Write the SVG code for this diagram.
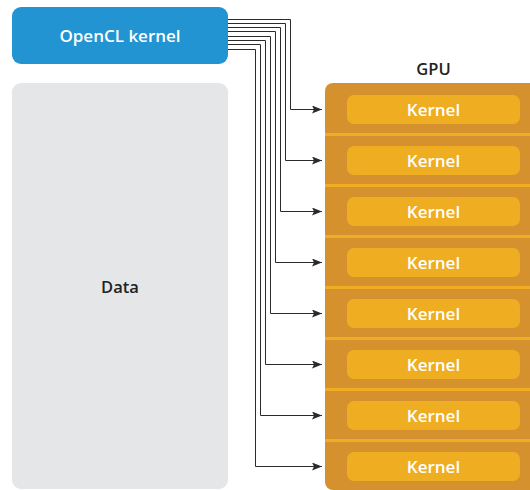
<svg xmlns="http://www.w3.org/2000/svg" width="530" height="490" viewBox="0 0 530 490">
<defs>
<style>
.lbl{font-family:"Open Sans","Noto Sans",sans-serif;font-weight:600;text-anchor:middle}
.k{fill:#efad22}
.kt{fill:#ffffff;font-size:17px}
.sep{fill:#f0ac22}
.c{fill:none;stroke:#2b2b2b;stroke-width:1}
</style>
<marker id="ah" viewBox="0 0 10 8" refX="10" refY="4" markerWidth="11" markerHeight="8" markerUnits="userSpaceOnUse" orient="auto">
<path d="M0,0 L10,4 L0,8 L2,4 Z" fill="#2b2b2b"/>
</marker>
</defs>
<g id="opencl">
<rect x="12" y="7" width="216" height="57" rx="9" fill="#2394d2"/>
<text class="lbl" x="120" y="42" font-size="17" fill="#ffffff">OpenCL kernel</text>
</g>
<g id="data">
<rect x="12" y="83" width="216" height="406" rx="9" fill="#e5e6e8"/>
<text class="lbl" x="120" y="293" font-size="16.5" fill="#222222">Data</text>
</g>
<g id="gpu">
<text class="lbl" x="433.5" y="75" font-size="16.5" font-weight="500" fill="#222222">GPU</text>
<rect x="325" y="83" width="215" height="407" rx="8" fill="#d4912e"/>
<rect class="sep" x="325" y="133" width="205" height="3"/>
<rect class="sep" x="325" y="184" width="205" height="3"/>
<rect class="sep" x="325" y="235" width="205" height="3"/>
<rect class="sep" x="325" y="286" width="205" height="3"/>
<rect class="sep" x="325" y="337" width="205" height="3"/>
<rect class="sep" x="325" y="388" width="205" height="3"/>
<rect class="sep" x="325" y="439" width="205" height="3"/>
</g>
<g id="kernel1"><rect class="k" x="347" y="95" width="173" height="29" rx="7"/><text class="lbl kt" x="433.5" y="115.5">Kernel</text></g>
<g id="kernel2"><rect class="k" x="347" y="146" width="173" height="29" rx="7"/><text class="lbl kt" x="433.5" y="166.5">Kernel</text></g>
<g id="kernel3"><rect class="k" x="347" y="197" width="173" height="29" rx="7"/><text class="lbl kt" x="433.5" y="217.5">Kernel</text></g>
<g id="kernel4"><rect class="k" x="347" y="248" width="173" height="29" rx="7"/><text class="lbl kt" x="433.5" y="268.5">Kernel</text></g>
<g id="kernel5"><rect class="k" x="347" y="299" width="173" height="29" rx="7"/><text class="lbl kt" x="433.5" y="319.5">Kernel</text></g>
<g id="kernel6"><rect class="k" x="347" y="350" width="173" height="29" rx="7"/><text class="lbl kt" x="433.5" y="370.5">Kernel</text></g>
<g id="kernel7"><rect class="k" x="347" y="401" width="173" height="29" rx="7"/><text class="lbl kt" x="433.5" y="421.5">Kernel</text></g>
<g id="kernel8"><rect class="k" x="347" y="452" width="173" height="29" rx="7"/><text class="lbl kt" x="433.5" y="472.5">Kernel</text></g>
<g id="connectors">
<path class="c" marker-end="url(#ah)" d="M228,19.5 H290.5 V109.5 H322"/>
<path class="c" marker-end="url(#ah)" d="M228,23.5 H285.5 V160.5 H322"/>
<path class="c" marker-end="url(#ah)" d="M228,27.5 H280.5 V211.5 H322"/>
<path class="c" marker-end="url(#ah)" d="M228,31.5 H275.5 V262.5 H322"/>
<path class="c" marker-end="url(#ah)" d="M228,36.5 H270.5 V313.5 H322"/>
<path class="c" marker-end="url(#ah)" d="M228,40.5 H265.5 V364.5 H322"/>
<path class="c" marker-end="url(#ah)" d="M228,44.5 H260.5 V415.5 H322"/>
<path class="c" marker-end="url(#ah)" d="M228,49.5 H255.5 V466.5 H322"/>
</g>
</svg>
